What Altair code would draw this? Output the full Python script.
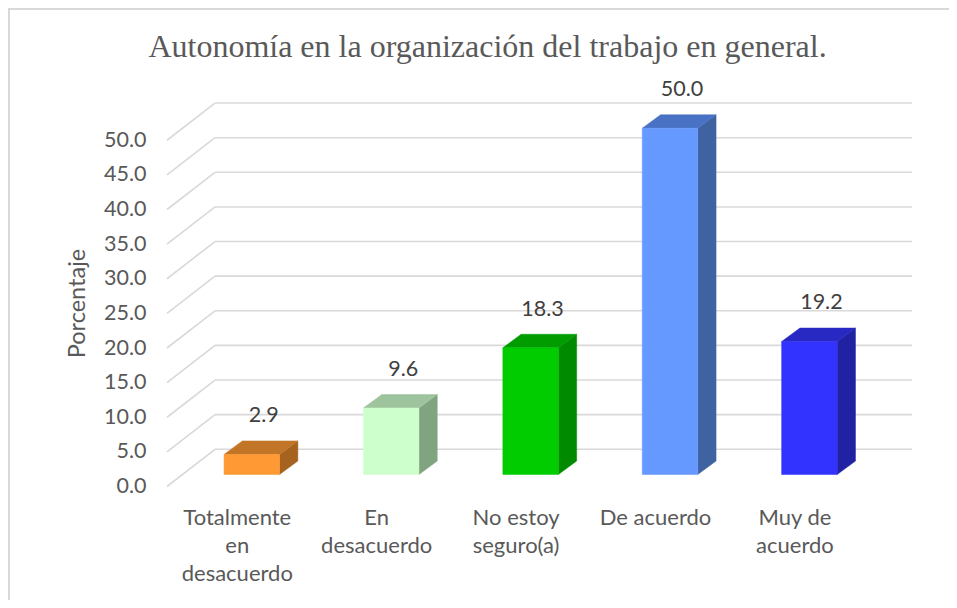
import altair as alt
import pandas as pd

# ---------------- data ----------------
categories = ["Totalmente en desacuerdo", "En desacuerdo", "No estoy seguro(a)",
              "De acuerdo", "Muy de acuerdo"]
category_lines = [["Totalmente", "en", "desacuerdo"], ["En", "desacuerdo"],
                  ["No estoy", "seguro(a)"], ["De acuerdo"], ["Muy de", "acuerdo"]]
values = [2.9, 9.6, 18.3, 50.0, 19.2]
y_ticks = [0, 5, 10, 15, 20, 25, 30, 35, 40, 45, 50]

front_colors = ["#FF9933", "#CCFFCC", "#00CC00", "#6699FF", "#3333FF"]
top_colors = ["#C27526", "#9EC49E", "#009C00", "#4A72C4", "#2828C2"]
side_colors = ["#A5631F", "#80A380", "#008A00", "#3F62A1", "#2121A3"]

title_text = "Autonomía en la organización del trabajo en general."
y_title = "Porcentaje"

# ---------------- 3D geometry (in scale units) ----------------
X_MIN, X_MAX = -0.6083, 4.7360      # front axis .. right end of back wall
BACK_X = -0.2640                    # left edge of back wall
HALF = 0.1991                       # half width of bar front face
DX = 0.1313                         # bar depth, horizontal
SY = 6.925                          # px per value unit
Y_MIN, Y_MAX = -12 / SY, 388 / SY
FRONT_DY = -12 / SY                 # front floor relative to bar base
BACK_DY = 25.2 / SY                 # back wall relative to bar base
BAR_DY = 13.5 / SY                  # bar depth, vertical

W, H = 745, 400
PAD = {"left": 159, "top": 78.5, "right": 37, "bottom": 113.5}

FONT = "Lato"
GRAY = "#595959"

# ---------------- tables ----------------
grid = pd.DataFrame({
    "v": y_ticks,
    "fx": [X_MIN] * len(y_ticks),
    "fy": [t + FRONT_DY for t in y_ticks],
    "bx": [BACK_X] * len(y_ticks),
    "by": [t + BACK_DY for t in y_ticks],
    "ex": [X_MAX] * len(y_ticks),
})

front_rows, top_rows, side_rows, lab_rows, cat_rows = [], [], [], [], []
for i, (cat, v) in enumerate(zip(categories, values)):
    c = float(i)
    front_rows.append({"cat": cat, "x": c - HALF, "x2": c + HALF, "y": 0.0, "y2": v,
                       "col": front_colors[i]})
    for x, y, y2 in [(c - HALF, v, v), (c - HALF + DX, v + BAR_DY, v),
                     (c + HALF, v + BAR_DY, v), (c + HALF + DX, v + BAR_DY, v + BAR_DY)]:
        top_rows.append({"cat": cat, "x": x, "y": y, "y2": y2, "col": top_colors[i]})
    for x, y, y2 in [(c + HALF, v, 0.0), (c + HALF + DX, v + BAR_DY, BAR_DY)]:
        side_rows.append({"cat": cat, "x": x, "y": y, "y2": y2, "col": side_colors[i]})
    lab_rows.append({"cat": cat, "x": c + 0.086, "y": v + 5.5, "v": v})
    cat_rows.append({"cat": cat, "x": c - 0.104, "y": -4.88, "t": "\n".join(category_lines[i])})

front = pd.DataFrame(front_rows)
top = pd.DataFrame(top_rows)
side = pd.DataFrame(side_rows)
labs = pd.DataFrame(lab_rows)
cats = pd.DataFrame(cat_rows)

xs = alt.Scale(domain=[X_MIN, X_MAX], nice=False, zero=False)
ys = alt.Scale(domain=[Y_MIN, Y_MAX], nice=False, zero=False)

yaxis = alt.Axis(values=y_ticks, format=".1f", labelOffset=12, domain=False, ticks=False,
                 tickSize=0, grid=False, labelPadding=21, labelFont=FONT, labelFontSize=21.5,
                 labelColor=GRAY, title=y_title, titleFont=FONT, titleFontSize=23.5,
                 titleFontWeight="normal", titleColor=GRAY, titleX=-90, titleY=216.5,
                 titleAngle=270, titleAlign="center", titleBaseline="middle")


def X(f):
    return alt.X(f"{f}:Q", scale=xs, axis=None)


def Y(f):
    return alt.Y(f"{f}:Q", scale=ys, axis=yaxis)


one = pd.DataFrame({"a": [0]})
border_top = alt.Chart(one).mark_rule(color="#D9D9D9", strokeWidth=2).encode(
    x=alt.value(-159), x2=alt.value(W + PAD["right"]), y=alt.value(-77.5))
border_left = alt.Chart(one).mark_rule(color="#D9D9D9", strokeWidth=2).encode(
    x=alt.value(-158), y=alt.value(-78.5), y2=alt.value(H + PAD["bottom"]))

diag = alt.Chart(grid).mark_rule(color="#D9D9D9", strokeWidth=1.6).encode(
    x=X("fx"), y=Y("fy"), x2="bx:Q", y2="by:Q")
back = alt.Chart(grid).mark_rule(color="#D9D9D9", strokeWidth=1.6).encode(
    x=X("bx"), y=Y("by"), x2="ex:Q", y2="by:Q")

side_l = alt.Chart(side).mark_area(orient="vertical", strokeWidth=0.5).encode(
    x=X("x"), y=Y("y"), y2="y2:Q", detail="cat:N",
    fill=alt.Fill("col:N", scale=None), stroke=alt.Stroke("col:N", scale=None))
top_l = alt.Chart(top).mark_area(orient="vertical", strokeWidth=0.5).encode(
    x=X("x"), y=Y("y"), y2="y2:Q", detail="cat:N",
    fill=alt.Fill("col:N", scale=None), stroke=alt.Stroke("col:N", scale=None))
front_l = alt.Chart(front).mark_rect(strokeWidth=0.5).encode(
    x=X("x"), x2="x2:Q", y=Y("y"), y2="y2:Q",
    fill=alt.Fill("col:N", scale=None), stroke=alt.Stroke("col:N", scale=None))

val_l = alt.Chart(labs).mark_text(font=FONT, fontSize=21.5, color="#404040",
                                  baseline="middle", align="center").encode(
    x=X("x"), y=Y("y"), text=alt.Text("v:Q", format=".1f"))

cat_l = alt.Chart(cats).mark_text(font=FONT, fontSize=22, color=GRAY, baseline="top",
                                  align="center", lineBreak="\n", lineHeight=28).encode(
    x=X("x"), y=Y("y"), text="t:N")

chart = alt.layer(border_top, border_left, diag, back, side_l, top_l, front_l,
                  val_l, cat_l).properties(
    width=W, height=H,
    autosize=alt.AutoSizeParams(type="none"),
    padding=PAD,
    background="white",
    title=alt.TitleParams(title_text, font="Liberation Serif", fontSize=32,
                          fontWeight="normal", color=GRAY, anchor="middle", frame="group",
                          dx=-52, baseline="alphabetic", offset=-82),
).configure_view(stroke=None)

chart.save("out.html", embed_options={"renderer": "svg", "actions": False})
